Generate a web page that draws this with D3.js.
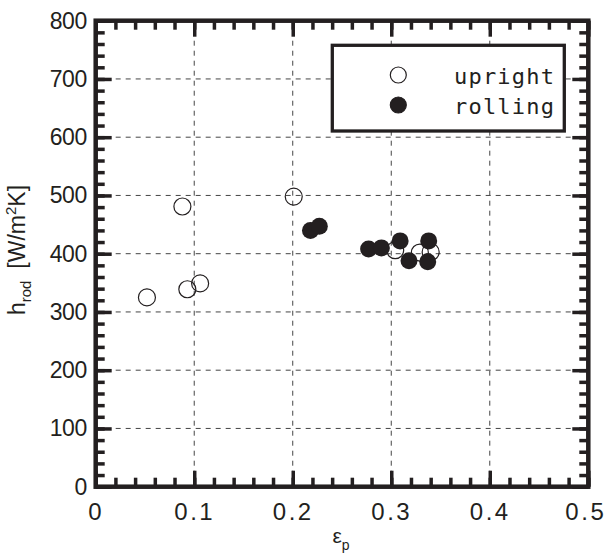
<!DOCTYPE html>
<html>
<head>
<meta charset="utf-8">
<script src="https://cdn.jsdelivr.net/npm/d3@7"></script>
<style>
  body { margin: 0; background: #fff; }
  svg { display: block; }
  .tick text { font-family: "Liberation Sans", Arial, sans-serif; }
</style>
</head>
<body>
<div id="chart"></div>
<script>
// ----- data -----
const uprightEps = [0.052, 0.088, 0.093, 0.106, 0.201, 0.304, 0.329, 0.340];
const uprightH   = [325,   481,   339,   349,   498,   406,   402,   403];
const rollingEps = [0.218, 0.227, 0.277, 0.290, 0.309, 0.318, 0.338, 0.337];
const rollingH   = [440,   447,   408,   410,   422,   388,   422,   386];

const xMajor = [0, 0.1, 0.2, 0.3, 0.4, 0.5];
const yMajor = [0, 100, 200, 300, 400, 500, 600, 700, 800];
const xMinor = d3.range(0, 0.5001, 0.02);
const yMinor = d3.range(0, 800.1, 20);
const legendLabels = ["upright", "rolling"];

// ----- layout -----
const width = 607, height = 558;
const margin = { left: 95.7, top: 20.7, right: 607 - 588.3, bottom: 558 - 486.7 };
const w = width - margin.left - margin.right;
const h = height - margin.top - margin.bottom;
const ink = "#231f20";

const svg = d3.select("#chart").append("svg")
  .attr("width", width).attr("height", height);
const g = svg.append("g").attr("transform", `translate(${margin.left},${margin.top})`);

const x = d3.scaleLinear().domain([0, 0.5]).range([0, w]);
const y = d3.scaleLinear().domain([0, 800]).range([h, 0]);

// grid
const grid = g.append("g").attr("class", "grid");
grid.selectAll("line.gx").data(xMajor.slice(1, -1)).join("line")
  .attr("x1", d => x(d)).attr("x2", d => x(d)).attr("y1", 0).attr("y2", h);
grid.selectAll("line.gy").data(yMajor.slice(1, -1)).join("line")
  .attr("y1", d => y(d)).attr("y2", d => y(d)).attr("x1", 0).attr("x2", w);
grid.selectAll("line")
  .attr("stroke", "#444").attr("stroke-width", 1).attr("stroke-dasharray", "5,5");

// ticks: inward on all four sides
function styleAxis(sel) {
  sel.select(".domain").remove();
  sel.selectAll(".tick line").attr("stroke", ink).attr("stroke-width", 3.5);
}
const fmtX = d => d === 0 ? "0" : d3.format(".1f")(d);

g.append("g").attr("transform", `translate(0,${h})`)
  .call(d3.axisBottom(x).tickValues(xMinor).tickSize(-9).tickFormat("")).call(styleAxis);
g.append("g").attr("transform", `translate(0,${h})`)
  .call(d3.axisBottom(x).tickValues(xMajor).tickSize(-16).tickPadding(16).tickFormat(fmtX))
  .call(styleAxis)
  .selectAll("text").attr("fill", ink).attr("font-size", 24).attr("letter-spacing", 2.5)
  .attr("dx", d => d === 0.5 ? -3 : 0);

g.append("g")
  .call(d3.axisTop(x).tickValues(xMinor).tickSize(-9).tickFormat("")).call(styleAxis);
g.append("g")
  .call(d3.axisTop(x).tickValues(xMajor).tickSize(-16).tickFormat("")).call(styleAxis);

g.append("g")
  .call(d3.axisLeft(y).tickValues(yMinor).tickSize(-9).tickFormat("")).call(styleAxis);
g.append("g")
  .call(d3.axisLeft(y).tickValues(yMajor).tickSize(-16).tickPadding(9).tickFormat(d3.format("d")))
  .call(styleAxis)
  .selectAll("text").attr("fill", ink).attr("font-size", 23).attr("letter-spacing", -0.5);

g.append("g").attr("transform", `translate(${w},0)`)
  .call(d3.axisRight(y).tickValues(yMinor).tickSize(-9).tickFormat("")).call(styleAxis);
g.append("g").attr("transform", `translate(${w},0)`)
  .call(d3.axisRight(y).tickValues(yMajor).tickSize(-16).tickFormat("")).call(styleAxis);

// frame
g.append("rect").attr("width", w).attr("height", h)
  .attr("fill", "none").attr("stroke", ink).attr("stroke-width", 4.5);

// points
const r = 8.5;
g.append("g").selectAll("circle")
  .data(d3.zip(uprightEps, uprightH)).join("circle")
  .attr("cx", d => x(d[0])).attr("cy", d => y(d[1])).attr("r", r)
  .attr("fill", "none").attr("stroke", ink).attr("stroke-width", 1.2);
g.append("g").selectAll("circle")
  .data(d3.zip(rollingEps, rollingH)).join("circle")
  .attr("cx", d => x(d[0])).attr("cy", d => y(d[1])).attr("r", r)
  .attr("fill", ink);

// legend
const legend = svg.append("g");
legend.append("rect")
  .attr("x", 332.3).attr("y", 45.3).attr("width", 232).attr("height", 85.7)
  .attr("fill", "#fff").attr("stroke", ink).attr("stroke-width", 3.3);
legendLabels.forEach((lab, i) => {
  const cy = 75 + i * 30;
  legend.append("circle").attr("cx", 398.3).attr("cy", cy).attr("r", 8)
    .attr("fill", i === 0 ? "none" : ink).attr("stroke", ink).attr("stroke-width", 1.2);
  legend.append("text").attr("x", 454).attr("y", cy + 9)
    .attr("font-family", "DejaVu Sans Mono, monospace").attr("font-size", 22)
    .attr("letter-spacing", 1.2).attr("fill", ink).text(lab);
});

// axis titles
const xt = svg.append("text").attr("x", 341).attr("y", 543)
  .attr("text-anchor", "middle").attr("font-family", "Liberation Sans, Arial, sans-serif")
  .attr("font-size", 21).attr("fill", ink);
xt.append("tspan").text("ε");
xt.append("tspan").attr("font-size", 14).attr("dy", 7).text("p");

const yt = svg.append("text")
  .attr("transform", "translate(25,250) rotate(-90)")
  .attr("text-anchor", "middle").attr("font-family", "Liberation Sans, Arial, sans-serif")
  .attr("font-size", 23).attr("fill", ink);
yt.append("tspan").text("h");
yt.append("tspan").attr("font-size", 15).attr("dy", 6).text("rod");
yt.append("tspan").attr("dy", -6).attr("dx", 12).text("[W/m");
yt.append("tspan").attr("font-size", 15).attr("dy", -9).text("2");
yt.append("tspan").attr("dy", 9).text("K]");
</script>
</body>
</html>
